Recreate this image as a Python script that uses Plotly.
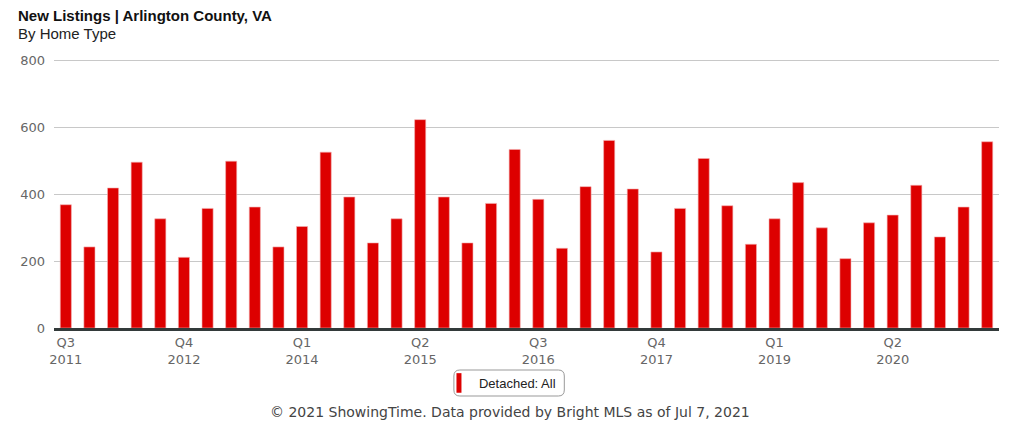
import plotly.graph_objects as go

quarters = []
for yr in range(2011, 2022):
    for q in range(1, 5):
        if (yr == 2011 and q < 3) or (yr == 2021 and q > 2):
            continue
        quarters.append(f"Q{q} {yr}")

detached_all = [368, 242, 418, 495, 326, 211, 357, 498, 361, 242,
                303, 525, 391, 254, 326, 622, 391, 254, 372, 533,
                384, 238, 422, 560, 415, 227, 357, 506, 365, 250,
                326, 434, 299, 207, 314, 337, 426, 272, 361, 556]

tick_vals = quarters[::5]
tick_text = [q.replace(" ", "<br>") for q in tick_vals]
y_ticks = [0, 200, 400, 600, 800]

# page body adds an 8px offset; work in window pixel coords
OFF = 8
W, H = 1016, 429
PL, PR, PT, PB = 49, 999, 56, 328   # plot area in window pixels
L = PL - OFF
T = PT - OFF
R = W - (PR - OFF)
B = H - (PB - OFF)
pw = PR - PL
ph = PB - PT

def py(px):
    return (PB - px) / ph

def pxx(px):
    return (px - PL) / pw

ymax = 800 * ph / (PB - 60)

fig = go.Figure()
fig.add_trace(go.Bar(
    x=quarters, y=detached_all, name="Detached: All",
    marker=dict(color="#dd0000", line=dict(color="#f3b0b0", width=0.6)),
    showlegend=False, legendgroup="d",
))
fig.add_trace(go.Scatter(
    x=[None], y=[None], mode="markers", name="Detached: All", legendgroup="d",
    marker=dict(symbol="line-ns", size=14, color="#dd0000",
                line=dict(color="#dd0000", width=5)),
    showlegend=True, hoverinfo="skip",
))

fig.update_layout(
    width=W, height=H,
    margin=dict(l=L, r=R, t=T, b=B),
    paper_bgcolor="white", plot_bgcolor="white",
    bargap=0.53,
    xaxis=dict(
        type="category", tickmode="array", tickvals=tick_vals, ticktext=tick_text,
        showgrid=False, showline=True, linecolor="#333a3a", linewidth=3,
        ticks="", tickfont=dict(family="DejaVu Sans", size=13, color="#666666"),
        fixedrange=True,
    ),
    yaxis=dict(
        range=[0, ymax], tickvals=y_ticks, showgrid=True, gridcolor="#c8c8c8",
        gridwidth=1, zeroline=False, showline=False, ticks="",
        tickfont=dict(family="DejaVu Sans", size=13, color="#666666"),
        ticklabelstandoff=8,
    ),
    legend=dict(
        orientation="h", x=pxx(436), xanchor="left", y=py(383), yanchor="middle",
        font=dict(family="Liberation Sans", size=13, color="#222222"),
        bgcolor="rgba(0,0,0,0)", borderwidth=0,
        itemwidth=30,
    ),
    showlegend=True,
)

# rounded legend box
x0, x1 = pxx(451), pxx(562)
y0, y1 = py(396), py(370)
rx = 6 / pw
ry = 6 / ph
path = (f"M {x0+rx},{y0} L {x1-rx},{y0} Q {x1},{y0} {x1},{y0+ry} "
        f"L {x1},{y1-ry} Q {x1},{y1} {x1-rx},{y1} L {x0+rx},{y1} "
        f"Q {x0},{y1} {x0},{y1-ry} L {x0},{y0+ry} Q {x0},{y0} {x0+rx},{y0} Z")
fig.add_shape(type="path", path=path, xref="paper", yref="paper",
              line=dict(color="#999999", width=1), fillcolor="rgba(0,0,0,0)")

fig.add_annotation(text="<b>New Listings | Arlington County, VA</b>", xref="paper", yref="paper",
                   x=pxx(11), y=py(15), xanchor="left", yanchor="middle", showarrow=False,
                   font=dict(family="Liberation Sans", size=15, color="#111111"))
fig.add_annotation(text="By Home Type", xref="paper", yref="paper",
                   x=pxx(11), y=py(33), xanchor="left", yanchor="middle", showarrow=False,
                   font=dict(family="Liberation Sans", size=15, color="#222222"))
fig.add_annotation(text="© 2021 ShowingTime. Data provided by Bright MLS as of Jul 7, 2021",
                   xref="paper", yref="paper", x=pxx(507), y=py(412),
                   xanchor="center", yanchor="middle", showarrow=False,
                   font=dict(family="DejaVu Sans", size=14, color="#444444"))

fig.write_html("out.html")
